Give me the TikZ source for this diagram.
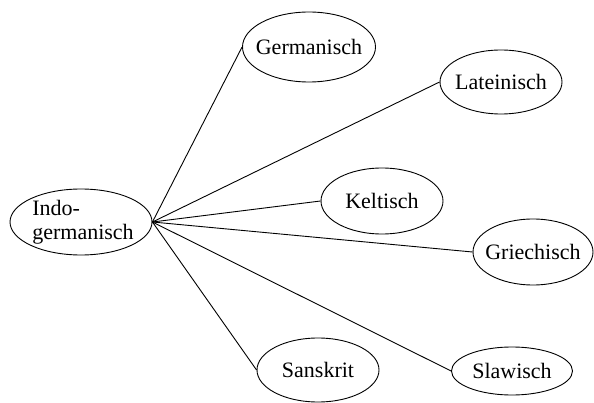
\documentclass[tikz,border=0pt]{standalone}
\usepackage{fontspec}
\setmainfont{Liberation Serif}
\usetikzlibrary{shapes.geometric}
\begin{document}
\begin{tikzpicture}[x=1pt,y=-1pt,
  oval/.style={draw, ellipse, line width=0.9pt, inner sep=0pt},
  lab/.style={font=\fontsize{22}{24.5}\selectfont, inner sep=0pt, align=left},
  link/.style={line width=0.9pt}]
\useasboundingbox (0,0) rectangle (594,403);
\node[oval, minimum width=142, minimum height=66, label={[lab,xshift=2pt]center:Indo-\\germanisch}] (indo) at (81,222) {};
\node[oval, minimum width=133, minimum height=70, label={[lab]center:Germanisch}] (germ) at (309,47) {};
\node[oval, minimum width=122, minimum height=64, label={[lab]center:Lateinisch}] (lat) at (501,82) {};
\node[oval, minimum width=122, minimum height=66, label={[lab]center:Keltisch}] (kel) at (382,201) {};
\node[oval, minimum width=120, minimum height=66, label={[lab]center:Griechisch}] (gri) at (533,252) {};
\node[oval, minimum width=122, minimum height=64, label={[lab]center:Sanskrit}] (san) at (318,370) {};
\node[oval, minimum width=121, minimum height=48, label={[lab]center:Slawisch}] (sla) at (512,371) {};
\foreach \t in {germ,lat,kel,gri,san,sla}
  \draw[link] (indo.east) -- (\t.west);
\end{tikzpicture}
\end{document}
